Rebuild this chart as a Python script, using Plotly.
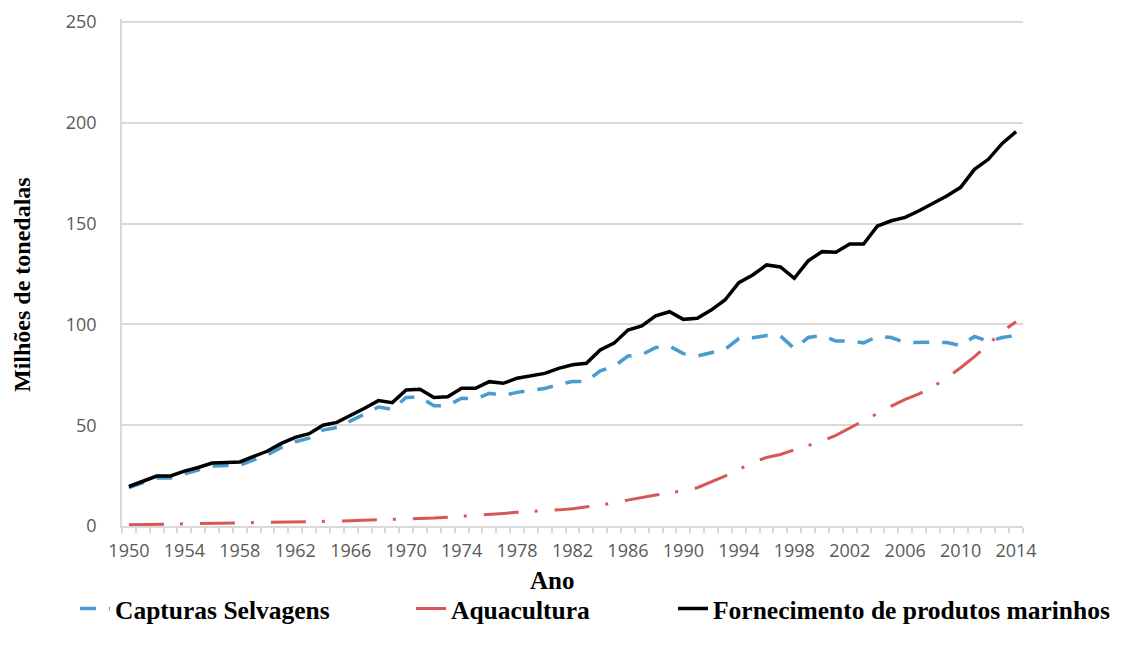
import plotly.graph_objects as go

years = list(range(1950, 2015))

capturas = [19.0, 21.3, 23.8, 23.8, 26.0, 27.8, 29.8, 30.0, 30.2, 32.8,
            35.3, 39.0, 41.8, 43.6, 47.6, 48.9, 52.0, 55.5, 59.0, 57.8,
            63.8, 63.9, 59.6, 59.8, 63.4, 63.0, 65.8, 64.8, 66.3, 67.2,
            68.2, 70.2, 71.7, 71.6, 77.0, 79.2, 84.3, 85.0, 88.6, 89.2,
            85.5, 84.3, 86.1, 87.6, 93.0, 93.4, 94.5, 94.3, 88.0, 93.5,
            94.5, 91.8, 91.8, 90.8, 94.0, 93.5, 91.0, 91.3, 91.2, 91.0,
            89.5, 94.0, 91.6, 93.5, 94.5]

aquacultura = [0.6, 0.7, 0.8, 0.9, 1.0, 1.1, 1.2, 1.3, 1.4, 1.6,
               1.8, 1.9, 2.0, 2.1, 2.2, 2.4, 2.6, 2.8, 3.0, 3.1,
               3.3, 3.6, 4.0, 4.4, 4.8, 5.2, 5.6, 6.2, 6.8, 7.1,
               7.5, 8.0, 8.6, 9.4, 10.4, 11.6, 12.9, 14.2, 15.4, 16.4,
               17.5, 19.0, 21.8, 24.8, 28.0, 31.5, 34.0, 35.5, 37.8, 40.0,
               42.0, 45.0, 48.5, 52.0, 55.8, 59.5, 62.8, 65.5, 69.0, 73.5,
               78.5, 84.0, 90.0, 96.5, 101.3]

fornecimento = [19.6, 22.0, 24.8, 24.8, 27.2, 29.0, 31.2, 31.5, 31.8, 34.5,
                37.2, 41.0, 44.0, 45.8, 50.0, 51.4, 54.8, 58.4, 62.2, 61.2,
                67.5, 67.8, 63.8, 64.1, 68.3, 68.3, 71.6, 70.8, 73.3, 74.4,
                75.7, 78.2, 80.0, 80.7, 87.3, 90.7, 97.2, 99.2, 104.2, 106.3,
                102.5, 103.0, 107.1, 112.1, 120.7, 124.5, 129.5, 128.5, 122.9, 131.5,
                136.1, 135.8, 139.9, 139.9, 148.8, 151.4, 153.1, 156.4, 160.0, 163.7,
                168.0, 176.9, 181.9, 189.8, 195.6]

x_tick_years = list(range(1950, 2015, 4))
x_tick_labels = [str(y) for y in x_tick_years]
y_tick_vals = [0, 50, 100, 150, 200, 250]

names = ["Capturas Selvagens", "Aquacultura", "Fornecimento de produtos marinhos"]

GRAY = "#D9D9D9"
TICKFONT = dict(family="Open Sans", size=18, color="#595959")
OFF = 8  # page body margin
W, H = 1121 - OFF, 647 - OFF
YMAX = 251.5
PH = 507  # plot height in px
TOP = 526 - PH

fig = go.Figure()
fig.add_trace(go.Scatter(x=years, y=capturas, mode="lines", name=names[0],
                         line=dict(color="#4A9BCF", width=3.5, dash="16px,13px"),
                         legend="legend"))
fig.add_trace(go.Scatter(x=years, y=aquacultura, mode="lines", name=names[1],
                         line=dict(color="#D75656", width=3, dash="35px,16px,3px,17px"),
                         legend="legend2"))
fig.add_trace(go.Scatter(x=years, y=fornecimento, mode="lines", name=names[2],
                         line=dict(color="black", width=3.5),
                         legend="legend3"))

leg_common = dict(orientation="h", xref="container", yref="container",
                  xanchor="left", yanchor="middle", y=1 - (609 - OFF) / H,
                  font=dict(family="Liberation Serif", size=25.5, color="black", weight="bold"),
                  bgcolor="rgba(0,0,0,0)")

fig.update_layout(
    width=W, height=H,
    margin=dict(l=122 - OFF, r=W - (1023 - OFF), t=TOP - OFF, b=H - (526 - OFF)),
    paper_bgcolor="white", plot_bgcolor="white",
    showlegend=True,
    legend=dict(x=(75 - OFF) / W, **leg_common),
    legend2=dict(x=(411 - OFF) / W, **leg_common),
    legend3=dict(x=(673 - OFF) / W, **leg_common),
    xaxis=dict(range=[1949.5, 2014.5], tickvals=x_tick_years, ticktext=x_tick_labels,
               ticks="", showgrid=False, zeroline=False, automargin=False,
               showline=True, linecolor=GRAY, linewidth=1.5,
               tickfont=TICKFONT, ticklabelstandoff=8,
               minor=dict(ticks="outside", tick0=1949.5, dtick=1, ticklen=5,
                          tickcolor=GRAY, tickwidth=1.5, showgrid=False)),
    yaxis=dict(range=[0, YMAX], tickvals=y_tick_vals, showgrid=True, gridcolor=GRAY,
               gridwidth=1.5, zeroline=False, showline=True, linecolor=GRAY,
               automargin=False,
               linewidth=1.5, ticks="", tickfont=TICKFONT, ticklabelstandoff=20),
    shapes=[dict(type="line", xref="paper", yref="y", x0=0, x1=1,
                 y0=y_tick_vals[-1], y1=y_tick_vals[-1], layer="below",
                 line=dict(color=GRAY, width=1.5))],
    annotations=[
        dict(text="<b>Milhões de tonedalas</b>", xref="paper", yref="paper",
             x=(22 - 122) / 901, y=(526 - 285) / PH, textangle=-90,
             xanchor="center", yanchor="middle",
             showarrow=False, font=dict(family="Liberation Serif", size=24, color="black")),
        dict(text="<b>Ano</b>", xref="paper", yref="paper",
             x=(552 - 122) / 901, y=(526 - 580) / PH,
             xanchor="center", yanchor="middle",
             showarrow=False, font=dict(family="Liberation Serif", size=25, color="black")),
    ],
)

fig.write_html("out.html")
